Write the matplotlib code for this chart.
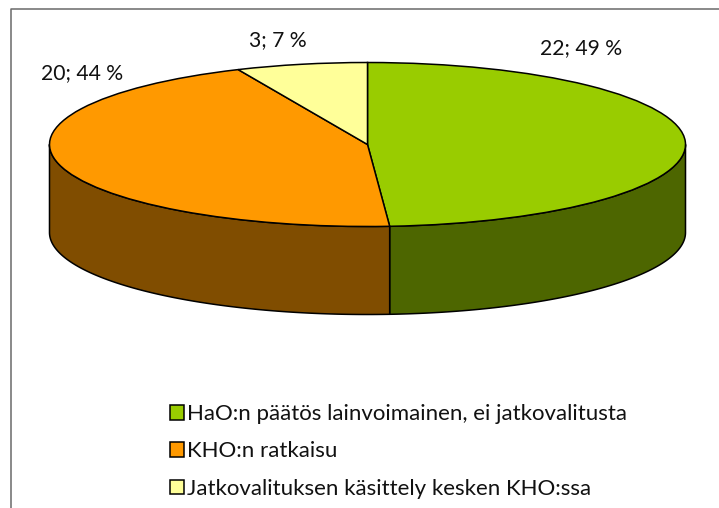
import numpy as np
import matplotlib
matplotlib.use("Agg")
import matplotlib.pyplot as plt
from matplotlib.patches import Polygon

categories = ["HaO:n päätös lainvoimainen, ei jatkovalitusta", "KHO:n ratkaisu",
              "Jatkovalituksen käsittely kesken KHO:ssa"]
values = [22, 20, 3]
top_colors = ["#99CC00", "#FF9900", "#FFFF99"]
side_colors = ["#4D6600", "#804D00", "#808040"]
label_px = [(581, 48), (82.5, 73), (278, 40)]

W, H = 719, 508
CX, CY, RX, RY, DEPTH = 367.5, 144.5, 318, 82, 88
plt.rcParams["font.family"] = ["Lato", "DejaVu Sans"]
FS = 16
FS_LABEL = 15.2

fig = plt.figure(figsize=(W / 100, H / 100), dpi=100, facecolor="white")

# frame (open at the right and bottom edges of the picture)
bg = fig.add_axes([0, 0, 1, 1])
bg.set_xlim(0, W); bg.set_ylim(H, 0); bg.axis("off")
bg.plot([10.5, 10.5, W], [H, 9, 9], color="#6a6a6a", lw=1.1, solid_capstyle="butt")

ax = fig.add_axes([(CX - RX) / W, 1 - (CY + RY) / H, 2 * RX / W, 2 * RY / H])
wedges, _ = ax.pie(values, colors=top_colors, startangle=90, counterclock=False, radius=1,
                   wedgeprops=dict(edgecolor="black", linewidth=1.1))
ax.set_aspect("auto")
ax.set_xlim(-1, 1); ax.set_ylim(-1, 1)
for w in wedges:
    w.set_clip_on(False)
    w.set_zorder(3)

# side wall of the cylinder, from the same cumulative shares as the pie
depth = DEPTH / RY
edges = np.concatenate([[0], np.cumsum(values)]) / sum(values) * 2 * np.pi
for i, col in enumerate(side_colors):
    a, b = max(edges[i], np.pi / 2), min(edges[i + 1], 3 * np.pi / 2)
    if b <= a:
        continue
    t = np.linspace(a, b, 200)
    x, y = np.sin(t), np.cos(t)
    pts = np.vstack([np.c_[x, y], np.c_[x, y - depth][::-1]])
    ax.add_patch(Polygon(pts, closed=True, facecolor=col, edgecolor="black",
                         linewidth=1.1, clip_on=False, zorder=2, joinstyle="round"))

total = sum(values)
for v, (px, py) in zip(values, label_px):
    bg.text(px, py, f"{v}; {round(100 * v / total)} %", ha="center", va="center",
            fontsize=FS_LABEL, color="#111111")

leg = fig.legend(wedges, categories, loc="upper left", bbox_to_anchor=(170 / W, 1 - 404 / H),
                 bbox_transform=fig.transFigure, frameon=False, fontsize=FS,
                 handlelength=0.64, handleheight=0.64, handletextpad=0.12,
                 labelspacing=0.78, borderpad=0, borderaxespad=0, labelcolor="#111111")
fig.savefig("out.png", dpi=100, facecolor="white")
